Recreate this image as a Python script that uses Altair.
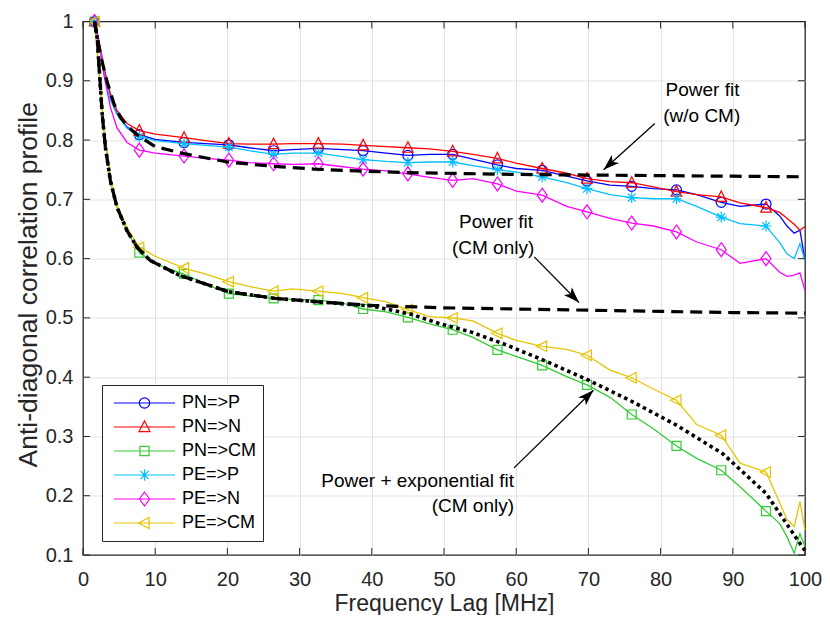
import math
import altair as alt
import pandas as pd

# ---------------- data ----------------
X = [1.6, 2.4, 2.9, 3.8, 4.7, 6.1, 7.8, 10, 14, 17, 20.2, 23, 26.4, 29, 32.6, 36, 38.8,
     42, 45, 48, 51.2, 54, 57.4, 60, 63.6, 67, 69.8, 73, 76, 79, 82.2, 85, 88.4, 91, 94.6,
     96.5, 97.5, 98.5, 99.3, 100]
MARKER_X = [1.6, 7.8, 14, 20.2, 26.4, 32.6, 38.8, 45, 51.2, 57.4, 63.6, 69.8, 76, 82.2, 88.4, 94.6]

SERIES = ["PN=>P", "PN=>N", "PN=>CM", "PE=>P", "PE=>N", "PE=>CM"]
COLORS = ["#0000ff", "#ff0000", "#33cc33", "#00bfff", "#ff00ff", "#e6c300"]

Y_PN_P = [1.0, 0.950, 0.917, 0.870, 0.845, 0.822, 0.809,
          0.801, 0.796, 0.794, 0.792, 0.787, 0.782, 0.784, 0.786, 0.784, 0.782,
          0.778, 0.774, 0.776, 0.776, 0.768, 0.758, 0.752, 0.749, 0.739, 0.731,
          0.724, 0.722, 0.718, 0.716, 0.708, 0.695, 0.688, 0.692,
          0.672, 0.655, 0.643, 0.648, 0.597]
Y_PN_N = [1.0, 0.956, 0.922, 0.878, 0.850, 0.828, 0.816,
          0.810, 0.804, 0.799, 0.794, 0.793, 0.793, 0.794, 0.794, 0.793, 0.791,
          0.789, 0.787, 0.785, 0.781, 0.776, 0.769, 0.761, 0.752, 0.744, 0.735,
          0.730, 0.728, 0.721, 0.713, 0.708, 0.704, 0.694, 0.686,
          0.678, 0.668, 0.658, 0.648, 0.654]
Y_PN_CM = [1.0, 0.890, 0.815, 0.731, 0.687, 0.647, 0.610,
           0.591, 0.574, 0.557, 0.541, 0.537, 0.533, 0.531, 0.530, 0.525, 0.515,
           0.510, 0.501, 0.490, 0.480, 0.467, 0.446, 0.435, 0.420, 0.401, 0.387,
           0.366, 0.337, 0.313, 0.284, 0.263, 0.243, 0.215, 0.174,
           0.153, 0.131, 0.103, 0.136, 0.114]
Y_PE_P = [1.0, 0.948, 0.915, 0.868, 0.843, 0.820, 0.806,
          0.799, 0.794, 0.791, 0.788, 0.782, 0.776, 0.778, 0.778, 0.772, 0.767,
          0.764, 0.762, 0.763, 0.763, 0.757, 0.750, 0.746, 0.738, 0.728, 0.718,
          0.708, 0.703, 0.701, 0.701, 0.688, 0.670, 0.659, 0.655,
          0.627, 0.608, 0.600, 0.625, 0.597]
Y_PE_N = [1.0, 0.955, 0.910, 0.855, 0.821, 0.796, 0.783,
          0.778, 0.773, 0.769, 0.766, 0.762, 0.760, 0.759, 0.760, 0.755, 0.751,
          0.748, 0.743, 0.737, 0.732, 0.735, 0.726, 0.714, 0.707, 0.688, 0.679,
          0.668, 0.660, 0.655, 0.645, 0.628, 0.615, 0.592, 0.600,
          0.577, 0.570, 0.572, 0.576, 0.546]
Y_PE_CM = [1.0, 0.895, 0.820, 0.735, 0.690, 0.652, 0.619,
           0.604, 0.584, 0.574, 0.561, 0.553, 0.545, 0.549, 0.545, 0.541, 0.534,
           0.527, 0.514, 0.502, 0.500, 0.495, 0.474, 0.462, 0.452, 0.447, 0.437,
           0.412, 0.399, 0.380, 0.361, 0.320, 0.302, 0.255, 0.240,
           0.188, 0.160, 0.148, 0.190, 0.142]
SERIES_Y = [Y_PN_P, Y_PN_N, Y_PN_CM, Y_PE_P, Y_PE_N, Y_PE_CM]

# power fit (w/o CM)
FIT1_X = [1.6, 2.4, 3.3, 4.3, 5.2, 6.1, 7.7, 10, 14, 20, 26, 32, 38, 45, 50, 60, 70, 80, 90, 100]
FIT1_Y = [1.0, 0.945, 0.900, 0.861, 0.838, 0.824, 0.807, 0.789, 0.777, 0.763, 0.756, 0.751,
          0.748, 0.745, 0.744, 0.742, 0.741, 0.740, 0.739, 0.738]
# power fit (CM only)
FIT2_X = [1.6, 2.0, 2.2, 2.66, 3.1, 3.8, 4.7, 6.1, 7.5, 9.3, 13.3, 20.2, 26.6, 32.6, 40,
          50, 60, 70, 80, 90, 100]
FIT2_Y = [1.0, 0.970, 0.928, 0.844, 0.788, 0.731, 0.687, 0.647, 0.619, 0.597, 0.572, 0.544,
          0.533, 0.527, 0.521, 0.517, 0.515, 0.513, 0.511, 0.509, 0.508]
# power + exponential fit (CM only)
FIT3_X = [1.6, 2.0, 2.2, 2.66, 3.1, 3.8, 4.7, 6.1, 7.5, 9.3, 13.3, 20.2, 26.6, 32.6, 40,
          45.5, 49.2, 53.8, 58.3, 63.9, 70, 76.2, 82.2, 88.6, 94.6, 99.6, 100]
FIT3_Y = [1.0, 0.970, 0.928, 0.844, 0.788, 0.731, 0.687, 0.647, 0.619, 0.597, 0.572, 0.544,
          0.533, 0.527, 0.520, 0.506, 0.491, 0.476, 0.456, 0.428, 0.395, 0.358, 0.319,
          0.271, 0.204, 0.114, 0.108]

# annotations
ARROW_X = [79.2, 62.5, 59.7]
ARROW_Y = [0.828, 0.603, 0.247]
ARROW_X2 = [72.1, 68.7, 70.7]
ARROW_Y2 = [0.750, 0.526, 0.378]
NOTE_C_TEXT = ["Power fit", "(w/o CM)", "Power fit", "(CM only)"]
NOTE_C_X = [85.8, 85.7, 57.2, 56.8]
NOTE_C_Y = [0.884, 0.840, 0.661, 0.618]
NOTE_R_TEXT = ["Power + exponential fit", "(CM only)"]
NOTE_R_X = [59.7, 59.7]
NOTE_R_Y = [0.224, 0.182]

XTICKS = [0, 10, 20, 30, 40, 50, 60, 70, 80, 90, 100]
YTICKS = [0.1, 0.2, 0.3, 0.4, 0.5, 0.6, 0.7, 0.8, 0.9, 1.0]

# ---------------- styling ----------------
W, H = 722, 533.5
FONT = "Liberation Sans"
AX = "#262626"

MARKERS = [
    "M1,0A1,1,0,1,1,-1,0A1,1,0,1,1,1,0Z",
    "M0,-1.2L1.05,0.9L-1.05,0.9Z",
    "M-0.9,-0.9H0.9V0.9H-0.9Z",
    "M-1.1,0H1.1M0,-1.1V1.1M-0.78,-0.78L0.78,0.78M-0.78,0.78L0.78,-0.78",
    "M0,-1.4L1,0L0,1.4L-1,0Z",
    "M-1.2,0L0.9,-1.05L0.9,1.05Z",
]
LEG_PATHS = [
    "M-1,0H1M0.17,0A0.17,0.17,0,1,1,-0.17,0A0.17,0.17,0,1,1,0.17,0Z",
    "M-1,0H1M0,-0.2L0.18,0.15L-0.18,0.15Z",
    "M-1,0H1M-0.15,-0.15H0.15V0.15H-0.15Z",
    "M-1,0H1M0,-0.19V0.19M-0.19,0H0.19M-0.135,-0.135L0.135,0.135M-0.135,0.135L0.135,-0.135",
    "M-1,0H1M0,-0.23L0.165,0L0,0.23L-0.165,0Z",
    "M-1,0H1M-0.2,0L0.15,-0.18L0.15,0.18Z",
]
HEAD = "M0,0L0.55,1.6L0,1.2L-0.55,1.6Z"

XS = alt.Scale(domain=[0, 100], nice=False, zero=False)
YS = alt.Scale(domain=[0.1, 1.0], nice=False, zero=False)

XAXIS = alt.Axis(values=XTICKS, format="d", grid=True, labelFlush=False,
                 gridOpacity={"condition": {"test": "datum.value <= 0 || datum.value >= 100", "value": 0}, "value": 1},
                 labelPadding=14, titleY=55, titleBaseline="alphabetic")
YAXIS = alt.Axis(values=YTICKS, grid=True, labelFlush=False,
                 gridOpacity={"condition": {"test": "datum.value <= 0.1 || datum.value >= 1", "value": 0}, "value": 1},
                 labelExpr="datum.value >= 1 ? '1' : format(datum.value, '.1f')",
                 labelPadding=10, titleX=-47, titleY=H / 2 - 4, titleAngle=270,
                 titleFontSize=26.5, titleAlign="center", titleBaseline="alphabetic")

XT = "Frequency Lag [MHz]"
YT = "Anti-diagonal correlation profile"


def xe(f="x"):
    return alt.X(f"{f}:Q", scale=XS, axis=XAXIS, title=XT)


def ye(f="y"):
    return alt.Y(f"{f}:Q", scale=YS, axis=YAXIS, title=YT)


layers = []

# series: line + markers
for name, col, ys, mk in zip(SERIES, COLORS, SERIES_Y, MARKERS):
    d = pd.DataFrame({"x": X, "y": ys})
    dm = d[d["x"].isin(MARKER_X)]
    layers.append(alt.Chart(d).mark_line(color=col, strokeWidth=1.3).encode(x=xe(), y=ye()))
    layers.append(alt.Chart(dm).mark_point(shape=mk, size=100, filled=False, color=col,
                                           strokeWidth=1.2, opacity=1).encode(x=xe(), y=ye()))

# fits
layers.append(alt.Chart(pd.DataFrame({"x": FIT1_X, "y": FIT1_Y})).mark_line(
    color="black", strokeWidth=3.2, strokeDash=[12, 7]).encode(x=xe(), y=ye()))
layers.append(alt.Chart(pd.DataFrame({"x": FIT2_X, "y": FIT2_Y})).mark_line(
    color="black", strokeWidth=3.2, strokeDash=[12, 7]).encode(x=xe(), y=ye()))
layers.append(alt.Chart(pd.DataFrame({"x": FIT3_X, "y": FIT3_Y})).mark_line(
    color="black", strokeWidth=3.6, strokeDash=[3.5, 3.5]).encode(x=xe(), y=ye()))

# arrows
PX, PY = W / 100.0, H / 0.9
ANG = [math.degrees(math.atan2((x2 - x1) * PX, (y2 - y1) * PY)) % 360
       for x1, y1, x2, y2 in zip(ARROW_X, ARROW_Y, ARROW_X2, ARROW_Y2)]
arr = pd.DataFrame({"x": ARROW_X, "y": ARROW_Y, "x2": ARROW_X2, "y2": ARROW_Y2, "ang": ANG})
layers.append(alt.Chart(arr).mark_rule(color="black", strokeWidth=1.3).encode(
    x=xe(), y=ye(), x2="x2:Q", y2="y2:Q"))
layers.append(alt.Chart(arr).mark_point(shape=HEAD, size=400, filled=True, color="black",
                                        opacity=1, strokeWidth=0).encode(
    x=xe("x2"), y=ye("y2"), angle=alt.Angle("ang:Q", scale=None)))

# texts
layers.append(alt.Chart(pd.DataFrame({"x": NOTE_C_X, "y": NOTE_C_Y, "t": NOTE_C_TEXT})).mark_text(
    font=FONT, fontSize=19, color="black", align="center", baseline="middle").encode(
    x=xe(), y=ye(), text="t:N"))
layers.append(alt.Chart(pd.DataFrame({"x": NOTE_R_X, "y": NOTE_R_Y, "t": NOTE_R_TEXT})).mark_text(
    font=FONT, fontSize=19, color="black", align="right", baseline="middle").encode(
    x=xe(), y=ye(), text="t:N"))

# inward ticks
dxt = pd.DataFrame({"t": XTICKS})
dyt = pd.DataFrame({"t": YTICKS})
layers.append(alt.Chart(dxt).mark_rule(color=AX, strokeWidth=1).encode(
    x=xe("t"), y=alt.value(H), y2=alt.value(H - 7)))
layers.append(alt.Chart(dxt).mark_rule(color=AX, strokeWidth=1).encode(
    x=xe("t"), y=alt.value(0), y2=alt.value(7)))
layers.append(alt.Chart(dyt).mark_rule(color=AX, strokeWidth=1).encode(
    y=ye("t"), x=alt.value(0), x2=alt.value(7)))
layers.append(alt.Chart(dyt).mark_rule(color=AX, strokeWidth=1).encode(
    y=ye("t"), x=alt.value(W), x2=alt.value(W - 7)))

# legend (empty layer carrying the legend)
leg = alt.Legend(title=None, orient="none", legendX=19, legendY=363.5, symbolSize=3721,
                 clipHeight=24, rowPadding=0, padding=6, symbolOffset=5, labelOffset=6,
                 labelFont=FONT, labelFontSize=18, labelColor="black", strokeColor=AX,
                 fillColor="white", symbolStrokeWidth=1.2)
legdf = pd.DataFrame({"x": X[: len(SERIES)], "y": [0.5] * len(SERIES), "series": SERIES})
layers.append(alt.Chart(legdf).mark_point(filled=False, opacity=1, strokeWidth=1.2)
              .transform_filter("datum.x < -999")
              .encode(x=xe(), y=ye(),
                      color=alt.Color("series:N", scale=alt.Scale(domain=SERIES, range=COLORS), legend=leg),
                      shape=alt.Shape("series:N", scale=alt.Scale(domain=SERIES, range=LEG_PATHS), legend=leg)))

chart = alt.layer(*layers).properties(
    width=W, height=H,
    autosize=alt.AutoSizeParams(type="none"),
    padding={"left": 75, "top": 13.5, "right": 17, "bottom": 60},
).configure_view(stroke=AX, strokeWidth=1.3).configure_axis(
    domain=False, ticks=False, tickSize=0,
    labelFont=FONT, labelFontSize=20, labelColor=AX,
    titleFont=FONT, titleFontSize=23, titleFontWeight="normal", titleColor=AX,
    gridColor="#e2e2e2", gridWidth=1,
)

chart.save("out.html", embed_options={"renderer": "svg", "actions": False})
